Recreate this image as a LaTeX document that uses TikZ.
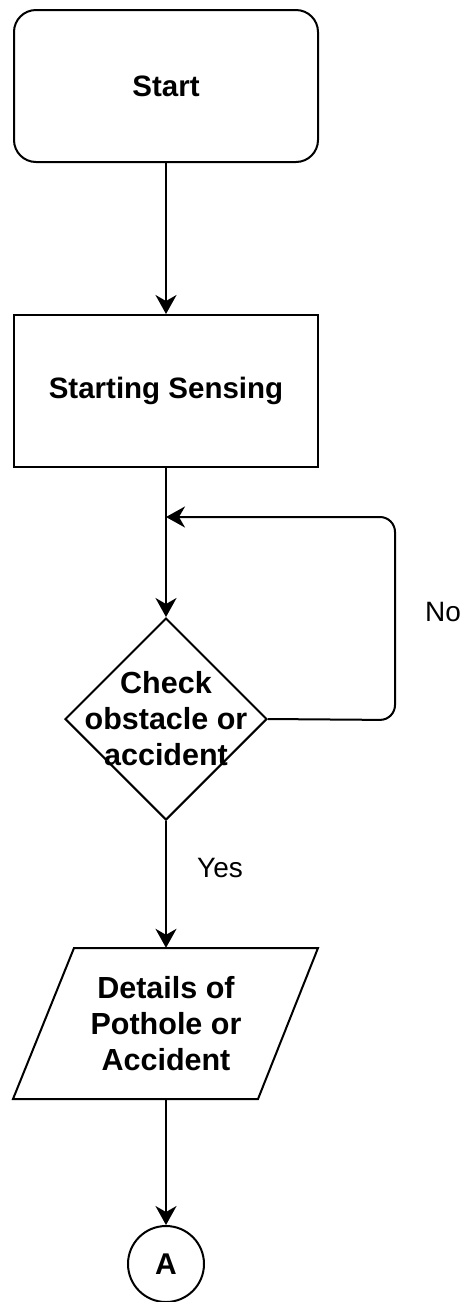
\documentclass[tikz,border=0pt]{standalone}
\usepackage{fontspec}
\setmainfont{Liberation Sans}
\usetikzlibrary{shapes.geometric,arrows.meta}
\tikzset{
  box/.style={draw, line width=2pt, minimum width=304pt, minimum height=152pt, inner sep=0pt, font=\fontsize{29.5}{36}\selectfont\bfseries, align=center},
  lbl/.style={font=\fontsize{30.5}{36}\selectfont\bfseries, align=center, inner sep=0pt},
  plain/.style={font=\fontsize{28}{34}\selectfont, inner sep=0pt},
  conn/.style={line width=2pt, -{Stealth[length=19pt,width=21pt,inset=6pt]}},
}
\begin{document}
\begin{tikzpicture}[x=1pt,y=-1pt]
\useasboundingbox (0,0) rectangle (467,1302);
\node[box, rounded corners=22pt] (start) at (166,86) {Start};
\node[box] (sense) at (166,391) {Starting Sensing};
\node[draw, line width=2pt, diamond, minimum width=202pt, minimum height=202pt, inner sep=0pt] (check) at (166,719) {};
\node[lbl] (checktxt) at (166,719) {Check\\obstacle or\\accident};
\draw[line width=2pt, line join=miter] (74,948) -- (318,948) -- (258,1099) -- (13,1099) -- cycle;
\node[lbl, minimum height=151pt] (det) at (166,1023.5) {Details of\\Pothole or\\Accident};
\node[draw, line width=2pt, circle, minimum size=76pt, inner sep=0pt, font=\fontsize{30}{36}\selectfont\bfseries] (a) at (166,1264) {A};
\coordinate (loopend) at (166,517);
\coordinate (loopr1) at (395,720);
\coordinate (loopr2) at (395,517);
\draw[conn] (start.south) -- (sense.north);
\draw[conn] (sense.south) -- (check.north);
\draw[conn, rounded corners=15pt] (check.east) -- (loopr1) -- (loopr2) -- (loopend);
\draw[conn] (check.south) -- (det.north);
\draw[conn] (det.south) -- (a.north);
\node[plain] (no) at (443,612) {No};
\node[plain] (yes) at (220,868) {Yes};
\end{tikzpicture}
\end{document}
